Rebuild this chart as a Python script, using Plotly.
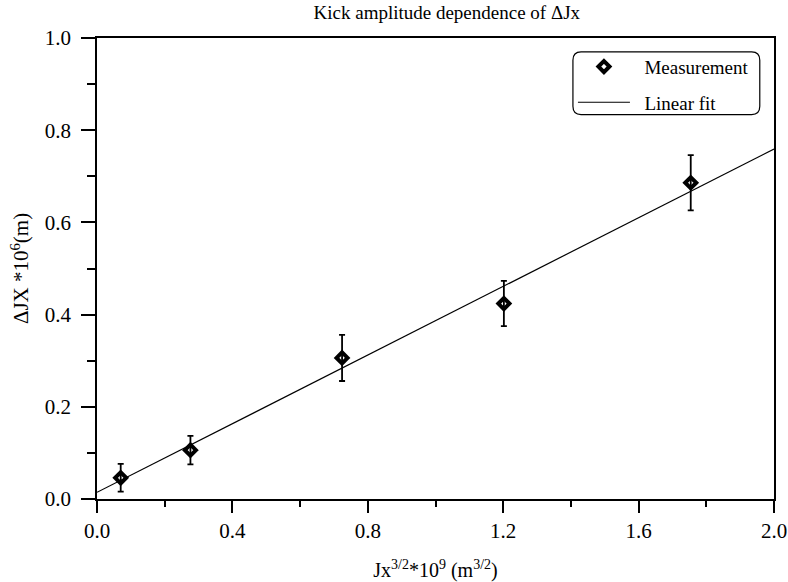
import plotly.graph_objects as go

# Data
x_meas = [0.070, 0.276, 0.724, 1.202, 1.754]
y_meas = [0.046, 0.106, 0.306, 0.424, 0.686]
y_err = [0.030, 0.031, 0.050, 0.049, 0.060]

fit_x = [0.0, 2.0]
fit_y = [0.0145, 0.759]

title_text = "Kick amplitude dependence of ΔJx"
x_title = "Jx<sup>3/2</sup>*10<sup>9</sup> (m<sup>3/2</sup>)"
y_title = "ΔJX *10<sup>6</sup>(m)"
x_ticks = [0.0, 0.4, 0.8, 1.2, 1.6, 2.0]
y_ticks = [0.0, 0.2, 0.4, 0.6, 0.8, 1.0]
legend_pad = "\u00a0\u00a0"

FONT = "Liberation Serif, Times New Roman, serif"

fig = go.Figure()
fig.add_trace(go.Scatter(
    x=x_meas, y=y_meas, mode="markers", name=legend_pad + "Measurement",
    legendgroup="a",
    marker=dict(symbol="diamond-open", size=8.5, color="black",
                line=dict(width=4, color="black")),
    error_y=dict(type="data", array=y_err, visible=True, color="black",
                 thickness=1.8, width=3),
))
fig.add_trace(go.Scatter(
    x=fit_x, y=fit_y, mode="lines", name=legend_pad + "Linear fit",
    legendgroup="b",
    line=dict(color="black", width=1.2),
))

fig.update_layout(
    width=788, height=582,
    margin=dict(l=97, r=14, t=38, b=83),
    paper_bgcolor="white", plot_bgcolor="white",
    font=dict(family=FONT, color="black", size=19),
    title=dict(text=title_text, x=0.567, xanchor="center", y=0.979,
               yanchor="middle", font=dict(size=19, family=FONT)),
    showlegend=True,
    legend=dict(x=0.703, y=0.979, xanchor="left", yanchor="top",
                bgcolor="rgba(0,0,0,0)", borderwidth=0,
                font=dict(size=19, family=FONT),
                tracegroupgap=8, itemwidth=52),
    xaxis=dict(
        range=[0, 2.0], tickvals=x_ticks,
        ticktext=["%.1f" % v for v in x_ticks],
        showgrid=False, zeroline=False, automargin=False,
        showline=True, linecolor="black", linewidth=1.5, mirror=True,
        ticks="outside", ticklen=12, tickwidth=1.5, tickcolor="black",
        minor=dict(dtick=0.2, ticks="outside", ticklen=6, tickwidth=1.5,
                   tickcolor="black", showgrid=False),
        tickfont=dict(size=21, family=FONT),
        title=dict(text=x_title, font=dict(size=20, family=FONT), standoff=22),
    ),
    yaxis=dict(
        range=[0, 1.0], tickvals=y_ticks,
        ticktext=["%.1f" % v for v in y_ticks],
        showgrid=False, zeroline=False, automargin=False,
        showline=True, linecolor="black", linewidth=1.5, mirror=True,
        ticks="outside", ticklen=14, tickwidth=1.5, tickcolor="black",
        ticklabelstandoff=6,
        minor=dict(dtick=0.1, ticks="outside", ticklen=8, tickwidth=1.5,
                   tickcolor="black", showgrid=False),
        tickfont=dict(size=21, family=FONT),
        title=dict(text=y_title, font=dict(size=21, family=FONT), standoff=10),
    ),
)

# Rounded legend box (paper coordinates)
x0, x1, y0, y1 = 0.703, 0.979, 0.834, 0.970
rx, ry = 0.012, 0.018
path = (f"M {x0+rx},{y0} L {x1-rx},{y0} Q {x1},{y0} {x1},{y0+ry} "
        f"L {x1},{y1-ry} Q {x1},{y1} {x1-rx},{y1} L {x0+rx},{y1} "
        f"Q {x0},{y1} {x0},{y1-ry} L {x0},{y0+ry} Q {x0},{y0} {x0+rx},{y0} Z")
fig.add_shape(type="path", path=path, xref="paper", yref="paper",
              line=dict(color="black", width=1.2), fillcolor="rgba(0,0,0,0)")

fig.write_html("out.html")
